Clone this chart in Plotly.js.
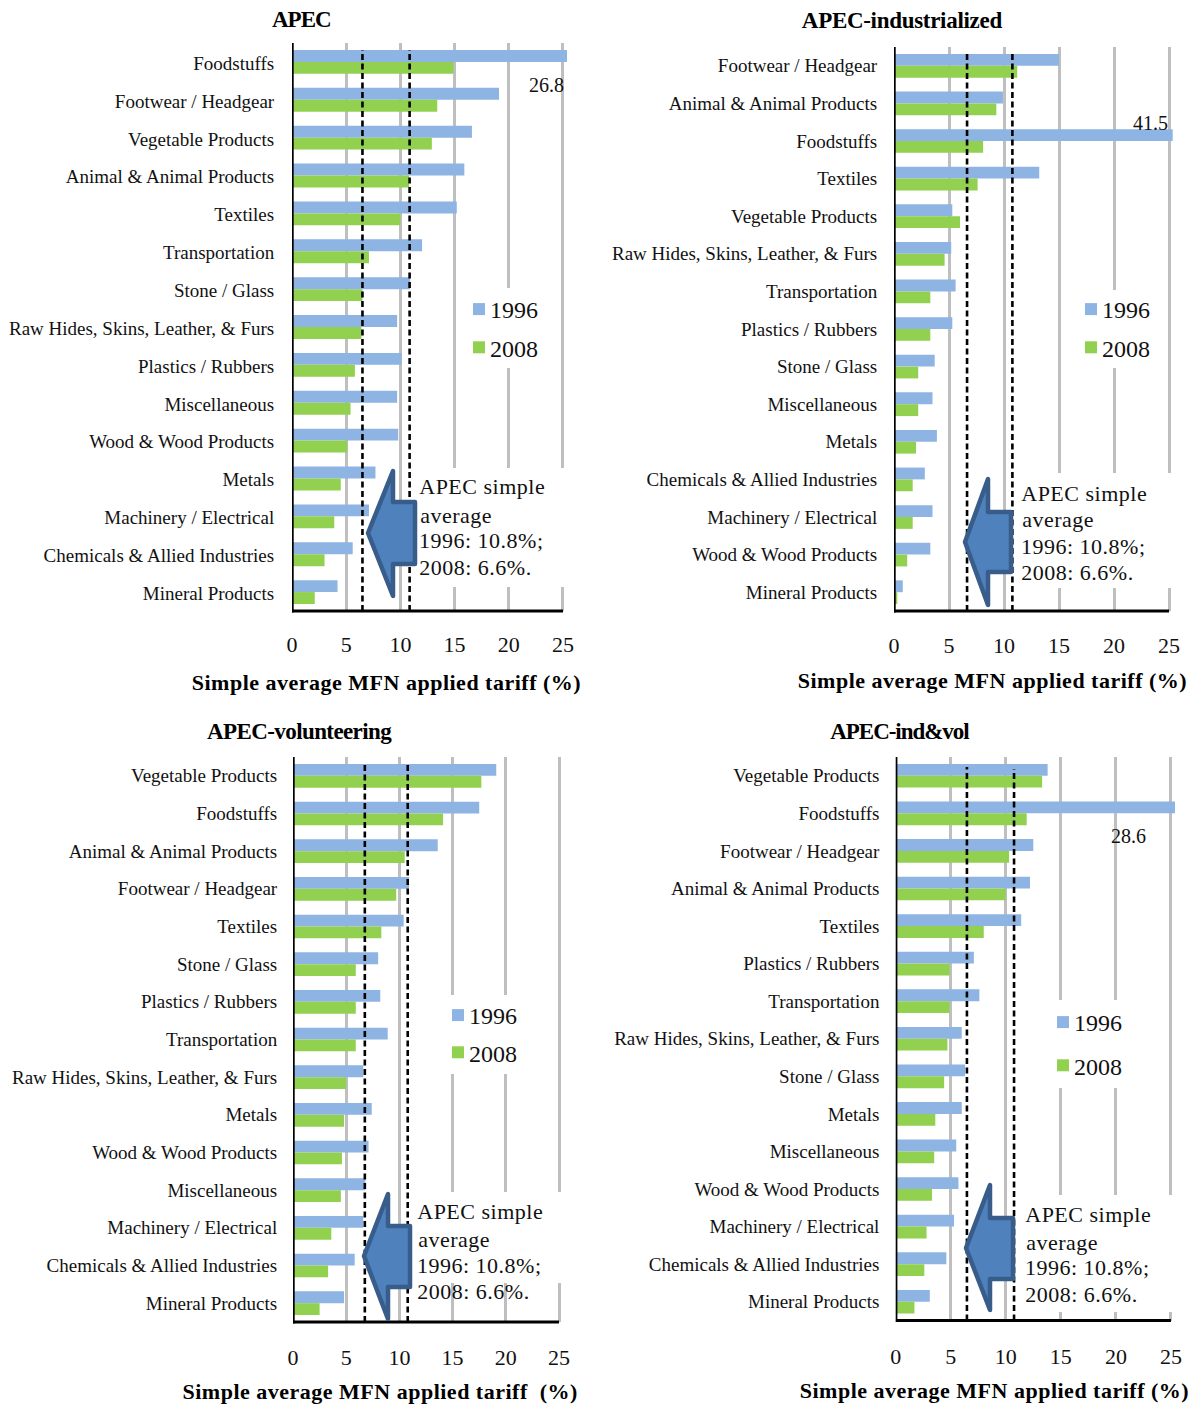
<!DOCTYPE html>
<html><head><meta charset="utf-8">
<script src="https://cdn.plot.ly/plotly-3.0.1.min.js"></script>
<style>
html,body{margin:0;padding:0;background:#fff}
.shapelayer path{stroke-linejoin:round}
</style></head><body><div id="chart" style="width:1196px;height:1405px"></div>
<script>
// ---- data ----
const titles = ["APEC","APEC-industrialized","APEC-volunteering","APEC-ind&vol"];
const series = ["1996","2008"];
const catsA = ["Foodstuffs","Footwear / Headgear","Vegetable Products","Animal & Animal Products","Textiles","Transportation","Stone / Glass","Raw Hides, Skins, Leather, & Furs","Plastics / Rubbers","Miscellaneous","Wood & Wood Products","Metals","Machinery / Electrical","Chemicals & Allied Industries","Mineral Products"];
const y96A = [26.8,19.1,16.6,15.9,15.2,12.0,10.9,9.7,10.1,9.7,9.8,7.7,7.1,5.6,4.2];
const y08A = [14.9,13.4,12.9,10.8,10.0,7.1,6.5,6.4,5.8,5.4,5.1,4.5,3.9,3.0,2.1];
const catsB = ["Footwear / Headgear","Animal & Animal Products","Foodstuffs","Textiles","Vegetable Products","Raw Hides, Skins, Leather, & Furs","Transportation","Plastics / Rubbers","Stone / Glass","Miscellaneous","Metals","Chemicals & Allied Industries","Machinery / Electrical","Wood & Wood Products","Mineral Products"];
const y96B = [15.0,9.9,41.5,13.2,5.3,5.2,5.6,5.3,3.7,3.5,3.9,2.8,3.5,3.3,0.8];
const y08B = [11.2,9.3,8.1,7.6,6.0,4.6,3.3,3.3,2.2,2.2,2.0,1.7,1.7,1.2,0.3];
const catsC = ["Vegetable Products","Foodstuffs","Animal & Animal Products","Footwear / Headgear","Textiles","Stone / Glass","Plastics / Rubbers","Transportation","Raw Hides, Skins, Leather, & Furs","Metals","Wood & Wood Products","Miscellaneous","Machinery / Electrical","Chemicals & Allied Industries","Mineral Products"];
const y96C = [19.1,17.5,13.6,10.9,10.4,8.0,8.2,8.9,6.6,7.4,7.1,6.8,6.6,5.8,4.8];
const y08C = [17.7,14.1,10.5,9.7,8.3,5.9,5.9,5.9,5.0,4.8,4.6,4.5,3.6,3.3,2.5];
const catsD = ["Vegetable Products","Foodstuffs","Footwear / Headgear","Animal & Animal Products","Textiles","Plastics / Rubbers","Transportation","Raw Hides, Skins, Leather, & Furs","Stone / Glass","Metals","Miscellaneous","Wood & Wood Products","Machinery / Electrical","Chemicals & Allied Industries","Mineral Products"];
const y96D = [13.8,28.6,12.5,12.2,11.4,7.1,7.6,6.0,6.3,6.0,5.5,5.7,5.3,4.6,3.1];
const y08D = [13.3,11.9,10.3,10.0,8.0,4.9,4.9,4.7,4.4,3.6,3.5,3.3,2.8,2.6,1.7];
const noteLines = ["APEC simple","average","1996: 10.8%;","2008: 6.6%."];
const tickVals = [0,5,10,15,20,25];

// ---- layout of the four panels (pixels of the picture) ----
const W=1196,H=1405, FONT="'Liberation Serif','Times New Roman',serif";
const panels=[
 {cats:catsA,a:y96A,b:y08A,l:292,r:567,t:43,bt:611,max:25.37,dash:[6.5,10.85],dashTop:[50,50],
  title:[301,20],titleSp:-1.0,xt:[386.5,682,"Simple average MFN applied tariff (%)"],tickGap:14,labGap:16,
  lab:["26.8",546,85],noteX:420,noteY:[487,515,540,567],
  gapLeg:[19,21,288,368],gapNote:[14,26,468,587],
  arrow:[[368,533],[393,471],[393,502],[415,502],[415,564],[393,564],[393,596]],leg:[459,287,4]},
 {cats:catsB,a:y96B,b:y08B,l:894,r:1172.7,t:47,bt:611,max:25.33,dash:[6.64,10.76],dashTop:[53,53],
  title:[902,21],titleSp:-0.3,xt:[993,681,"Simple average MFN applied tariff (%)"],tickGap:15,labGap:15,
  lab:["41.5",1150,123],noteX:1022,noteY:[493,520,546,572],
  gapLeg:[19,21,290,368],gapNote:[14,26,473,588],
  arrow:[[965,542],[988,479],[988,512],[1011,512],[1011,572],[988,572],[988,605]],leg:[1071,287,4]},
 {cats:catsC,a:y96C,b:y08C,l:293,r:561.7,t:757,bt:1322,max:25.25,dash:[6.75,10.78],dashTop:[764,764],
  title:[299,731],titleSp:-0.6,xt:[379.5,1391,"Simple average MFN applied tariff  (%)"],tickGap:16,labGap:14,
  lab:null,noteX:418,noteY:[1211,1239,1265,1291],
  gapLeg:[14,21,995,1074],gapNote:[14,26,1192,1283],
  arrow:[[364,1256],[388,1194],[388,1226],[410,1226],[410,1287],[388,1287],[388,1319]],leg:[438,993,3]},
 {cats:catsD,a:y96D,b:y08D,l:895.7,r:1175,t:757,bt:1320.5,max:25.37,dash:[6.47,10.75],dashTop:[767,769],
  title:[899,731],titleSp:-1.05,xt:[994.5,1390,"Simple average MFN applied tariff (%)"],tickGap:16,labGap:14.5,
  lab:["28.6",1128,836],noteX:1026,noteY:[1214,1242,1267,1294],
  gapLeg:[14,21,1000,1088],gapNote:[14,26,1195,1312],
  arrow:[[966,1248],[990,1185],[990,1218],[1013,1218],[1013,1279],[990,1279],[990,1310]],leg:[1043,1000,9]}
];
const px=x=>x/W, py=y=>1-y/H;
const traces=[],shapes=[],annotations=[],layout={
 width:W,height:H,margin:{l:0,r:0,t:0,b:0},paper_bgcolor:"#fff",plot_bgcolor:"rgba(0,0,0,0)",
 barmode:"group",bargap:0.37,bargroupgap:0,hovermode:false,font:{family:FONT,color:"#111"}
};
const text=(t,x,y,size,anchor,bold)=>annotations.push({text:bold?`<b>${t}</b>`:t,x:px(x),y:py(y),xref:"paper",yref:"paper",
  xanchor:anchor,yanchor:"middle",showarrow:false,font:{family:FONT,size:size,color:bold?"#000":"#111"}});

panels.forEach((p,i)=>{
 const n=i===0?"":String(i+1), xa="x"+n, ya="y"+n;
 const band=(p.bt-p.t)/p.cats.length, yIdx=y=>(y-p.t)/band-0.5;
 const legId="legend"+n;
 traces.push({type:"bar",orientation:"h",name:series[0],x:p.a,y:p.cats,xaxis:xa,yaxis:ya,marker:{color:"#8EB4E3"},legend:legId,legendgroup:"a"+i});
 traces.push({type:"bar",orientation:"h",name:series[1],x:p.b,y:p.cats,xaxis:xa,yaxis:ya,marker:{color:"#92D050"},legend:legId,legendgroup:"b"+i});
 layout["xaxis"+n]={domain:[px(p.l),px(p.r)],range:[0,p.max],anchor:ya,tickvals:tickVals,showgrid:true,gridcolor:"#BFBFBF",gridwidth:3,
   zeroline:false,showline:false,ticks:"outside",ticklen:p.tickGap,tickcolor:"rgba(0,0,0,0)",tickfont:{family:FONT,size:22,color:"#111"}};
 layout["yaxis"+n]={domain:[py(p.bt),py(p.t)],type:"category",range:[p.cats.length-0.5,-0.5],anchor:xa,showgrid:false,zeroline:false,showline:false,
   ticks:"outside",ticklen:p.labGap-3,tickcolor:"rgba(0,0,0,0)",tickfont:{family:FONT,size:19,color:"#111"},automargin:false};
 layout[legId]={x:px(p.leg[0]),y:py(p.leg[1]),xanchor:"left",yanchor:"top",bgcolor:"rgba(0,0,0,0)",borderwidth:0,
   traceorder:"grouped",tracegroupgap:p.leg[2],font:{family:FONT,size:24,color:"#111"}};
 // white gaps behind legend and note
 [p.gapLeg,p.gapNote].forEach(g=>shapes.push({type:"rect",layer:"between",xref:xa,yref:ya,x0:g[0],x1:g[1],y0:yIdx(g[2]),y1:yIdx(g[3]),fillcolor:"#fff",line:{width:0}}));
 // axis lines (the baseline stops at 25)
 shapes.push({type:"line",layer:"above",xref:xa,yref:"paper",x0:0,x1:0,y0:py(p.bt+1.5),y1:py(p.t),line:{color:"#000",width:3.4}});
 shapes.push({type:"line",layer:"above",xref:xa,yref:"paper",x0:0,x1:25,y0:py(p.bt),y1:py(p.bt),line:{color:"#000",width:3}});
 // average lines
 p.dash.forEach((v,k)=>shapes.push({type:"line",layer:"above",xref:xa,yref:"paper",x0:v,x1:v,y0:py(p.bt),y1:py(p.dashTop[k]),line:{color:"#000",width:2.6,dash:"6px,3.5px"}}));
 // arrow
 const d="M"+p.arrow.map(c=>px(c[0])+","+py(c[1])).join("L")+"Z";
 shapes.push({type:"path",layer:"above",xref:"paper",yref:"paper",path:d,fillcolor:"#4F81BD",line:{color:"#385D8A",width:4.5}});
 // texts
 text(titles[i],p.title[0],p.title[1],23,"center",true);
 text(p.xt[2],p.xt[0],p.xt[1],22,"center",true);
 if(p.lab) text(p.lab[0],p.lab[1],p.lab[2],20,"center",false);
 noteLines.forEach((t,k)=>text(t,p.noteX,p.noteY[k],22,"left",false));
});
layout.shapes=shapes; layout.annotations=annotations;
Plotly.newPlot("chart",traces,layout,{staticPlot:true,displayModeBar:false}).then(gd=>{
 gd.querySelectorAll(".annotation-text").forEach(el=>{
  const t=el.textContent, k=titles.indexOf(t);
  if(k>=0) el.style.letterSpacing=panels[k].titleSp+"px";
  else if(noteLines.includes(t)) el.style.letterSpacing="0.5px";
  else if(t.startsWith("Simple")) el.style.letterSpacing="0.5px";
 });
 // tighter swatch-to-text gap in all four legends
 gd.querySelectorAll(".legendtext,.legend2text,.legend3text,.legend4text").forEach(el=>{
  el.setAttribute("x",parseFloat(el.getAttribute("x")||0)-9);
 });
 // category labels sit slightly below the band centre
 gd.querySelectorAll(".ytick text").forEach(el=>{
  el.setAttribute("y",parseFloat(el.getAttribute("y")||0)+1.2);
 });
});
</script></body></html>
